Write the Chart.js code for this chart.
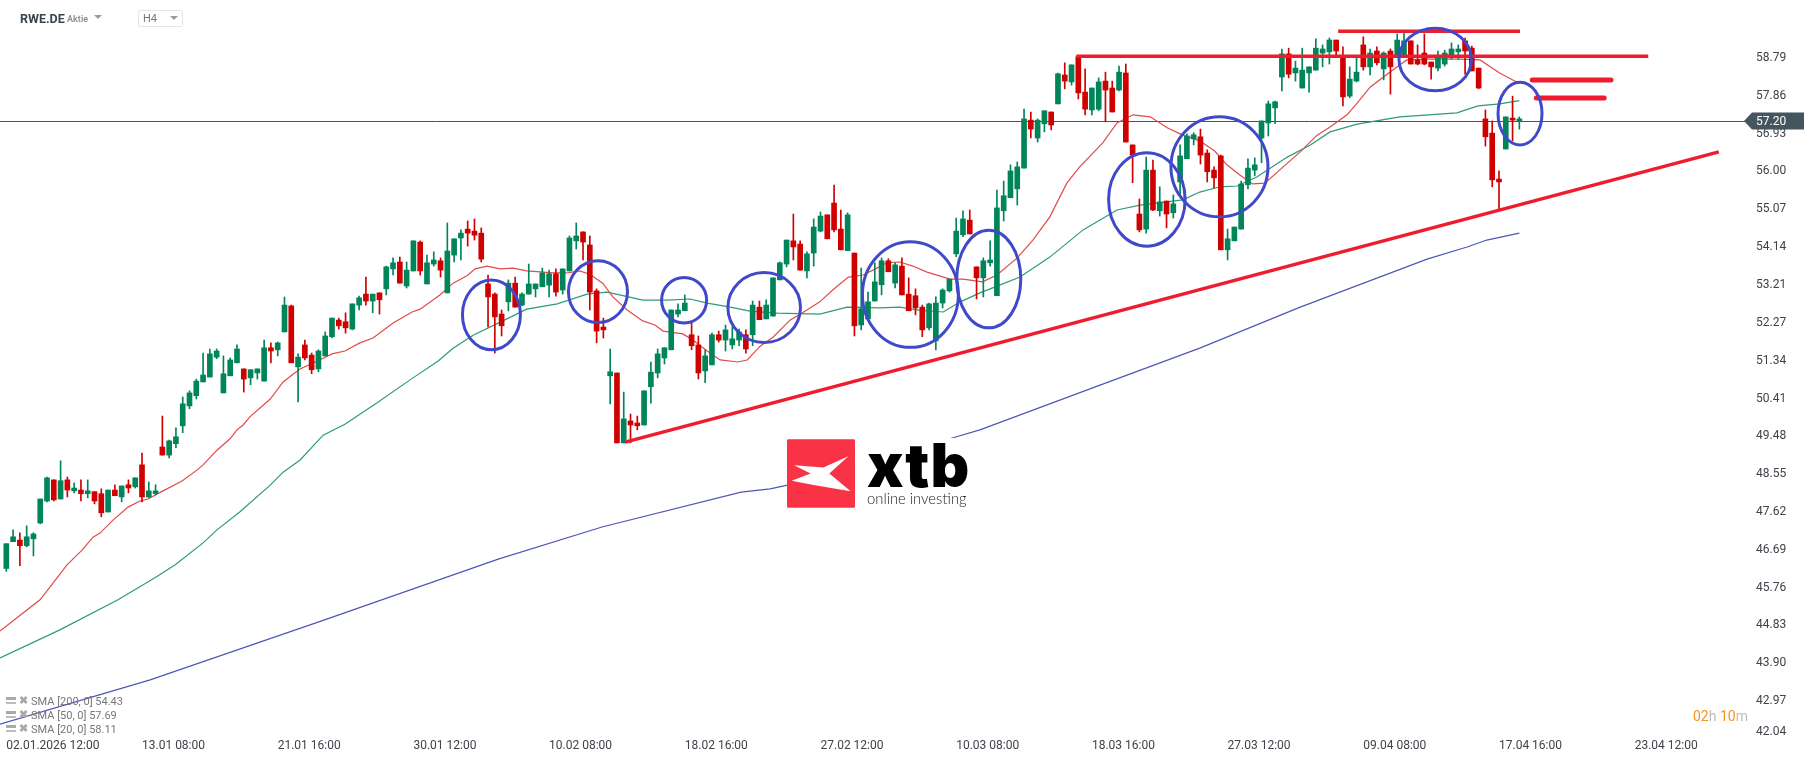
<!DOCTYPE html>
<html>
<head>
<meta charset="utf-8">
<title>RWE.DE H4</title>
<script src="https://cdn.jsdelivr.net/npm/chart.js@4"></script>
<style>
  html, body { margin: 0; padding: 0; background: #fff; }
  #wrap { position: relative; width: 1816px; height: 761px; overflow: hidden; font-family: Roboto, sans-serif; }
  #wrap canvas { position: absolute; left: 0; top: 0; }
  .abs { position: absolute; white-space: nowrap; }
  .tri { position: absolute; width: 0; height: 0; border-left: 4px solid transparent; border-right: 4px solid transparent; border-top: 4px solid #9a9a9a; }
  .sma { position: absolute; left: 31px; font-size: 11px; line-height: 12px; color: #777; white-space: nowrap; }
  .sma-ico { position: absolute; left: 6px; width: 10px; height: 7px; border-top: 3px solid #aaa; border-bottom: 2px solid #bbb; box-sizing: border-box; }
  .sma-x { position: absolute; left: 19px; font-size: 11px; line-height: 12px; font-weight: 900; color: #aaa; }
</style>
</head>
<body>
<div id="wrap">
  <canvas id="chart" width="1816" height="761"></canvas>

  <div class="abs" style="left:20px;top:11px;font-size:12.5px;line-height:16px;font-weight:700;color:#37474f;">RWE.DE</div>
  <div class="abs" style="left:67px;top:13px;font-size:9px;line-height:12px;font-weight:700;color:#90979c;">Aktie</div>
  <div class="tri" style="left:94px;top:15px;"></div>
  <div class="abs" style="left:138px;top:10px;width:43px;height:15px;border:1px solid #e6e6e6;border-radius:2px;"></div>
  <div class="abs" style="left:143px;top:12px;font-size:11px;line-height:14px;color:#777;">H4</div>
  <div class="tri" style="left:170px;top:16px;"></div>

  <div class="sma-ico" style="top:697px;"></div><div class="sma-x" style="top:695px;">✖</div><div class="sma" style="top:696px;">SMA [200, 0] 54.43</div>
  <div class="sma-ico" style="top:711px;"></div><div class="sma-x" style="top:709px;">✖</div><div class="sma" style="top:710px;">SMA [50, 0] 57.69</div>
  <div class="sma-ico" style="top:725px;"></div><div class="sma-x" style="top:723px;">✖</div><div class="sma" style="top:724px;">SMA [20, 0] 58.11</div>

  <div class="abs" style="left:1693px;top:708px;font-size:14px;line-height:16px;color:#bdbdbd;"><span style="color:#f7931e">02</span>h <span style="color:#f7931e">10</span>m</div>

  <div class="abs" style="left:787px;top:438px;width:170px;height:72px;background:#fff;">
    <svg class="abs" style="left:0;top:1px;" width="68" height="69" viewBox="51 27 204 206">
      <rect x="51" y="27" width="204" height="206" rx="4" fill="#f93345"/>
      <polygon points="72,105 160,112 235,78 178,130 242,183 135,165 65,152 122,130" fill="#fff"/>
    </svg>
    <div class="abs" style="left:80px;top:-3px;font-family:Inter,sans-serif;font-weight:900;font-size:60px;line-height:60px;color:#000;letter-spacing:1px;">xtb</div>
    <div class="abs" style="left:80px;top:52px;font-family:Lato,sans-serif;font-weight:300;font-size:14.8px;line-height:17px;color:#222;">online investing</div>
  </div>
</div>

<script>
// H4 candles, 02.01.2026 12:00 onward
const opens = [
  46.18,46.84,46.88,46.74,46.91,47.30,47.84,48.36,47.89,48.36,
  48.09,48.11,48.02,48.07,48.02,47.57,48.11,47.94,48.24,48.19,
  48.73,47.94,48.02,49.17,48.97,49.25,49.69,50.18,50.43,50.77,
  50.89,51.38,50.50,50.92,51.24,51.09,50.87,50.99,50.79,51.61,
  51.56,52.00,52.64,51.14,51.68,51.43,51.09,51.41,51.88,52.29,
  52.25,52.07,52.66,52.93,52.76,52.96,53.06,53.55,53.72,53.13,
  53.50,54.21,53.18,53.67,53.75,52.96,53.89,54.31,54.53,54.48,
  54.43,53.18,52.93,52.44,52.74,53.20,52.66,52.93,53.06,53.11,
  53.15,53.43,53.03,53.50,54.24,54.46,54.14,53.01,52.12,50.92,
  50.99,49.27,49.81,49.76,49.71,50.65,50.99,51.36,51.56,52.44,
  52.52,51.93,51.68,51.04,51.19,51.93,51.80,51.68,51.80,51.93,
  51.93,52.61,52.32,52.39,53.28,53.67,54.24,54.16,53.50,53.94,
  54.48,54.88,55.17,54.53,54.00,53.94,52.17,52.32,52.76,53.16,
  53.75,53.20,53.62,52.93,52.89,52.61,52.10,51.78,52.71,53.01,
  53.92,54.39,54.75,53.60,53.33,53.70,52.89,54.98,55.30,55.52,
  56.03,57.21,56.77,57.12,57.41,57.61,58.32,58.15,58.77,57.90,
  57.46,57.48,58.17,58.00,57.95,58.37,56.60,54.90,54.53,55.98,
  54.98,55.22,54.93,55.69,56.26,56.75,56.80,56.40,55.98,56.33,
  54.02,54.24,54.53,55.62,55.98,56.77,57.14,57.51,58.27,58.84,
  58.37,58.00,58.37,58.44,58.86,58.89,59.18,58.76,57.80,58.17,
  59.06,58.52,58.91,58.47,58.91,58.81,58.81,59.16,58.69,58.86,
  58.64,58.49,58.59,58.81,58.89,59.16,58.98,58.49,57.24,56.89,
  55.76,56.50,57.26,57.18
];
const highs = [
  46.79,47.13,47.06,47.23,47.06,47.89,48.43,48.36,48.83,48.43,
  48.29,48.36,48.36,48.07,48.14,48.11,48.24,48.21,48.36,48.41,
  49.02,48.31,48.24,49.93,49.34,49.64,50.40,50.55,50.84,51.48,
  51.58,51.58,51.41,51.36,51.68,51.09,51.07,51.09,51.80,51.73,
  51.75,52.86,52.66,51.46,51.80,51.48,51.56,52.00,52.34,52.34,
  52.47,52.69,52.88,53.35,52.93,52.96,53.62,53.82,53.84,53.72,
  54.24,54.24,53.89,53.97,53.82,54.68,54.29,54.51,54.73,54.78,
  54.56,53.40,52.96,52.54,53.28,53.35,52.96,53.67,53.18,53.57,
  53.52,53.55,53.55,54.36,54.68,54.46,54.36,53.06,52.34,51.58,
  50.99,50.52,49.98,49.93,50.55,51.26,51.58,51.61,52.54,52.69,
  52.91,52.22,51.90,51.56,51.97,52.02,52.17,52.12,52.07,52.05,
  52.76,52.76,52.79,53.33,53.72,54.26,54.90,54.24,53.97,54.78,
  54.95,54.88,55.61,55.00,54.93,53.94,53.57,52.98,53.70,53.82,
  53.80,53.70,53.82,53.33,53.06,52.66,52.71,52.86,53.06,53.30,
  54.80,54.98,55.00,53.60,53.82,54.24,55.49,55.71,56.11,56.18,
  57.48,57.41,57.24,57.44,57.41,58.37,58.62,58.57,58.77,58.47,
  58.00,58.25,58.39,58.17,58.54,58.59,56.60,55.27,56.30,56.23,
  55.57,55.22,55.37,56.60,56.87,56.90,56.99,56.48,56.06,56.35,
  54.53,54.58,55.71,56.26,56.28,57.19,57.68,57.68,58.96,58.98,
  58.66,58.98,58.52,59.21,59.06,59.23,59.18,59.01,58.52,58.76,
  59.26,58.96,59.01,58.89,58.96,59.33,59.35,59.16,59.06,59.33,
  58.64,58.91,58.93,59.11,59.06,59.23,59.03,58.49,57.46,57.19,
  55.96,57.29,57.80,57.29
];
const lows = [
  46.11,46.84,46.25,46.71,46.49,47.28,47.82,47.84,47.89,47.94,
  48.04,47.84,47.92,47.77,47.45,47.57,47.97,47.82,48.04,48.16,
  47.82,47.92,47.99,48.97,48.90,49.15,49.52,50.11,50.35,50.77,
  50.89,51.34,50.50,50.92,51.24,50.52,50.70,50.84,50.79,51.24,
  51.41,52.00,51.24,50.28,51.31,50.97,51.02,51.41,51.85,52.07,
  51.97,52.05,52.54,52.66,52.47,52.44,52.91,53.40,53.20,53.08,
  53.50,53.40,53.18,53.62,53.35,52.96,53.72,53.77,54.11,54.26,
  53.72,52.12,51.48,51.90,52.52,52.61,52.64,52.93,52.86,53.11,
  52.86,52.88,52.93,53.50,54.04,53.77,52.54,51.73,51.85,50.23,
  49.27,49.27,49.27,49.59,49.71,50.25,50.87,51.21,51.56,52.37,
  52.52,51.56,50.84,50.75,51.19,51.75,51.53,51.58,51.66,51.48,
  51.66,52.30,52.32,52.39,53.28,53.60,53.77,53.52,53.33,53.62,
  54.46,54.29,54.46,54.02,54.00,51.90,52.05,52.32,52.76,52.91,
  53.48,53.08,52.91,52.52,52.42,51.88,52.05,51.56,52.59,52.98,
  53.85,54.34,54.41,52.81,52.86,53.62,52.89,54.73,55.30,55.12,
  56.03,56.77,56.67,56.92,56.97,57.61,57.98,58.07,57.73,57.34,
  57.34,57.44,57.17,57.41,57.93,56.67,55.67,54.46,54.43,54.98,
  54.85,54.56,54.80,55.35,56.26,56.60,56.13,55.69,55.54,54.02,
  53.77,54.24,54.53,55.52,55.84,56.16,56.82,57.12,57.93,58.25,
  58.17,58.00,57.90,58.44,58.52,58.59,58.81,57.56,57.76,58.15,
  58.44,58.32,58.57,58.20,57.85,58.81,58.79,58.59,58.57,58.57,
  58.22,58.42,58.54,58.71,58.71,58.34,58.42,57.98,56.57,55.57,
  55.00,56.50,56.70,56.99
];
const closes = [
  46.79,46.96,46.74,46.96,47.03,47.89,48.41,47.87,48.34,48.11,
  48.16,48.02,48.09,47.84,47.55,48.11,47.97,48.21,48.16,48.41,
  47.94,48.09,48.09,48.97,49.32,49.42,50.23,50.50,50.79,50.94,
  51.46,51.53,50.97,51.31,51.58,50.84,51.07,51.09,51.61,51.53,
  51.73,52.66,51.24,51.38,51.36,51.07,51.53,51.90,52.34,52.15,
  52.10,52.69,52.84,52.76,52.93,52.79,53.60,53.70,53.20,53.52,
  54.24,53.50,53.70,53.77,53.52,53.99,54.29,54.43,54.43,54.38,
  53.79,52.86,52.37,52.15,53.20,52.61,52.93,53.18,53.18,53.45,
  53.43,52.98,53.55,54.31,54.36,54.21,52.98,52.02,52.05,51.02,
  49.27,49.86,49.71,49.69,50.55,51.01,51.46,51.61,52.54,52.54,
  52.71,51.66,50.99,51.41,51.93,51.80,52.05,51.83,52.00,51.58,
  52.66,52.30,52.66,53.33,53.70,54.26,54.09,53.52,53.92,54.58,
  54.85,54.29,54.51,54.02,54.88,52.15,52.57,52.74,53.23,53.75,
  53.48,53.65,52.91,52.52,52.59,52.05,52.69,52.71,53.03,53.30,
  54.48,54.78,54.41,53.33,53.75,53.77,55.05,55.35,55.96,56.06,
  57.24,56.99,57.21,57.44,57.09,58.35,58.17,58.57,57.88,57.48,
  58.00,58.15,57.95,57.41,58.39,56.67,56.35,54.51,55.98,55.00,
  55.20,54.90,55.15,56.33,56.82,56.85,56.35,55.94,55.79,54.02,
  54.29,54.58,55.64,56.03,56.11,57.19,57.61,57.66,58.84,58.34,
  58.49,58.44,58.52,58.98,58.96,59.18,58.91,57.78,58.22,58.39,
  58.52,58.86,58.62,58.86,58.52,59.18,59.16,58.59,58.59,58.59,
  58.52,58.76,58.86,58.96,58.96,58.91,58.42,58.00,56.80,55.74,
  55.69,57.29,57.21,57.24
];

// moving averages, read at candle positions
const sma20Idx = [-0.93,4.97,6.88,8.95,11.16,12.78,13.81,15.73,17.94,19.71,20.88,23.09,25.9,28.1,29,31.05,32.97,34,34.9,35.9,38.9,40.8,42.25,43.3,45.8,48,49.9,52.1,54.05,57,59.8,61,63.9,65.85,67.9,69.1,70.85,72.8,74.7,76.7,80.6,82.6,84.5,86,87.9,89.4,91.5,93.8,95.6,96.8,99.7,101.2,103.3,105.2,107.8,109.2,111.1,113,115.5,118,119.9,121.8,124.1,126.3,128.3,129.8,131.7,133.6,135.7,139.1,141,143.9,146,149,151.3,153.8,156.3,158.2,161.6,163.7,166.05,168.6,171.1,173.4,175.9,178.1,179.9,181.8,183.7,185.5,188.2,190.7,193.2,195.1,197.6,199.1,201,203.9,206.4,209.4,214.2,217.2,220.1,223];
const sma20Val = [44.64,45.41,45.82,46.27,46.63,46.95,47.05,47.37,47.69,47.84,47.89,48.09,48.33,48.60,48.73,49.09,49.37,49.59,49.71,49.91,50.35,50.77,50.96,51.09,51.28,51.46,51.53,51.73,51.85,52.22,52.49,52.56,52.91,53.20,53.38,53.55,53.62,53.55,53.57,53.50,53.45,53.45,53.50,53.42,53.20,52.86,52.54,52.27,52.17,52.02,51.95,51.80,51.53,51.31,51.26,51.31,51.65,51.87,52.29,52.54,52.74,53.03,53.35,53.40,53.57,53.70,53.72,53.62,53.47,53.30,53.30,53.23,53.40,53.82,54.26,54.83,55.66,56.06,56.65,57.14,57.34,57.29,57.02,56.84,56.70,56.45,56.11,55.86,55.64,55.66,56.06,56.43,56.84,57.04,57.34,57.63,58.02,58.39,58.69,58.71,58.71,58.69,58.37,58.11];
const sma50Idx = [-0.93,7.9,16.46,21.9,24.9,29,31.05,34.4,38.9,40.8,43.3,46.7,49.9,54.6,59.5,63.6,65.85,68.8,72.8,76.7,81.2,85.6,88.5,90.4,93.8,97.4,100.8,103.3,106.7,109.6,113.6,119.9,123.9,128.8,131.7,134.7,138.1,140.6,143.5,146.4,149.4,153.8,158.7,163.7,167.1,173.4,175.9,178.9,181.4,184.3,188.8,192.2,195.1,199.1,205.4,213.8,216.9,220.1,223];
const sma50Val = [43.98,44.67,45.41,45.95,46.27,46.81,47.13,47.57,48.23,48.55,48.85,49.46,49.73,50.25,50.82,51.28,51.60,51.92,52.24,52.56,52.69,52.93,52.98,52.91,52.78,52.78,52.81,52.71,52.61,52.51,52.46,52.44,52.61,52.59,52.61,52.53,52.49,52.74,52.96,53.15,53.35,53.84,54.51,55.00,55.12,55.25,55.44,55.57,55.59,55.81,56.30,56.60,56.92,57.11,57.29,57.39,57.56,57.61,57.69];
const sma200Idx = [-0.93,21.2,46.8,72.5,87.8,108.3,112.6,115.1,139.4,143.5,161.2,175.9,190.7,209.4,215.3,218.2,223];
const sma200Val = [42.35,43.44,44.91,46.41,47.20,48.06,48.14,48.23,49.39,49.59,50.69,51.60,52.61,53.79,54.09,54.26,54.43];

// hand drawn levels and trend line (candle position / price)
const trendIdx = [91.2, 252.4];
const trendVal = [49.29, 56.43];
const resistanceIdx = [157.7, 242];
const resistanceVal = [58.78, 58.78];
const topLevelIdx = [196.3, 223.1];
const topLevelVal = [59.395, 59.395];
const shortUpperIdx = [224.9, 236.5];
const shortUpperVal = [58.2, 58.2];
const shortLowerIdx = [225.5, 235.5];
const shortLowerVal = [57.755, 57.755];

// blue rings: centre candle, centre price, half width in candles, half height in price
const ringIdx = [71.5, 87.2, 99.9, 111.7, 133.25, 144.8, 168.1, 178.8, 210.6, 223.1];
const ringVal = [52.42, 52.99, 52.78, 52.60, 52.92, 53.30, 55.26, 56.06, 58.70, 57.37];
const ringRx = [4.27, 4.35, 3.32, 5.35, 7.07, 4.72, 5.64, 7.15, 5.34, 3.24];
const ringRy = [0.86, 0.76, 0.56, 0.86, 1.30, 1.20, 1.15, 1.23, 0.77, 0.77];

const lastPrice = 57.20;
const xTickIdx = [0, 20, 40, 60, 80, 100, 120, 140, 160, 180, 200, 220, 240];
const xTickLabels = ['02.01.2026 12:00', '13.01 08:00', '21.01 16:00', '30.01 12:00', '10.02 08:00', '18.02 16:00', '27.02 12:00', '10.03 08:00', '18.03 16:00', '27.03 12:00', '09.04 08:00', '17.04 16:00', '23.04 12:00'];
const yTicks = [58.79, 57.86, 56.93, 56.00, 55.07, 54.14, 53.21, 52.27, 51.34, 50.41, 49.48, 48.55, 47.62, 46.69, 45.76, 44.83, 43.90, 42.97, 42.04];

const UP = '#00855a';
const DOWN = '#cf0000';
const AXIS_TEXT = '#3d4349';
const ROW = '#44555f';

const candleColors = opens.map((o, i) => closes[i] >= o ? UP : DOWN);
const toPoints = (xs, ys) => xs.map((x, i) => ({ x, y: ys[i] }));

function smaLine(xs, ys, color, order) {
  return { type: 'line', data: toPoints(xs, ys), borderColor: color, borderWidth: 1.2, pointRadius: 0, order };
}
function levelLine(xs, ys, width, cap) {
  return { type: 'line', data: toPoints(xs, ys), borderColor: '#ee1c2e', borderWidth: width, pointRadius: 0, borderCapStyle: cap || 'butt', order: 1 };
}

const priceRow = {
  id: 'priceRow',
  beforeDatasetsDraw(chart) {
    const { ctx, scales: { y } } = chart;
    const py = Math.round(y.getPixelForValue(lastPrice)) + 0.5;
    ctx.save();
    ctx.strokeStyle = ROW;
    ctx.lineWidth = 1;
    ctx.beginPath();
    ctx.moveTo(0, py);
    ctx.lineTo(1746, py);
    ctx.stroke();
    ctx.restore();
  },
  afterDraw(chart) {
    const { ctx, scales: { y } } = chart;
    const py = Math.round(y.getPixelForValue(lastPrice));
    ctx.save();
    ctx.fillStyle = ROW;
    ctx.beginPath();
    ctx.moveTo(1744, py);
    ctx.lineTo(1752, py - 8.5);
    ctx.lineTo(1804, py - 8.5);
    ctx.lineTo(1804, py + 8.5);
    ctx.lineTo(1752, py + 8.5);
    ctx.closePath();
    ctx.fill();
    ctx.fillStyle = '#fff';
    ctx.font = '12px Roboto';
    ctx.textBaseline = 'middle';
    ctx.fillText(lastPrice.toFixed(2), 1756, py + 1);
    ctx.restore();
  },
};

const rings = {
  id: 'rings',
  afterDatasetsDraw(chart) {
    const { ctx, scales: { x, y } } = chart;
    ctx.save();
    ctx.strokeStyle = '#4049c9';
    ctx.lineWidth = 3;
    ringIdx.forEach((cx, i) => {
      const px = x.getPixelForValue(cx);
      const py = y.getPixelForValue(ringVal[i]);
      const rx = x.getPixelForValue(cx + ringRx[i]) - px;
      const ry = py - y.getPixelForValue(ringVal[i] + ringRy[i]);
      ctx.beginPath();
      ctx.ellipse(px, py, rx, ry, 0, 0, Math.PI * 2);
      ctx.stroke();
    });
    ctx.restore();
  },
};

new Chart(document.getElementById('chart'), {
  type: 'bar',
  data: {
    datasets: [
      smaLine(sma200Idx, sma200Val, '#4f57b5', 8),
      smaLine(sma50Idx, sma50Val, '#2f9a76', 7),
      smaLine(sma20Idx, sma20Val, '#e24a4a', 6),
      { label: 'wick', data: highs.map((h, i) => ({ x: i, y: [lows[i], h] })), backgroundColor: candleColors, barThickness: 1, grouped: false, order: 5 },
      { label: 'body', data: opens.map((o, i) => ({ x: i, y: [o, closes[i]] })), backgroundColor: candleColors, barThickness: 5, grouped: false, order: 4 },
      levelLine(trendIdx, trendVal, 3.5),
      levelLine(resistanceIdx, resistanceVal, 3.5),
      levelLine(topLevelIdx, topLevelVal, 3.5),
      levelLine(shortUpperIdx, shortUpperVal, 5, 'round'),
      levelLine(shortLowerIdx, shortLowerVal, 5, 'round'),
    ],
  },
  options: {
    responsive: false,
    animation: false,
    events: [],
    layout: { padding: 0 },
    plugins: { legend: { display: false }, tooltip: { enabled: false } },
    scales: {
      x: {
        type: 'linear',
        offset: false,
        min: -0.93,
        max: 256.7,
        afterBuildTicks: axis => { axis.ticks = xTickIdx.map(value => ({ value })); },
        afterFit: axis => { axis.height = 24; axis.paddingLeft = 0; axis.paddingRight = 0; },
        grid: { display: false, drawTicks: false },
        border: { display: false },
        ticks: {
          autoSkip: false, maxRotation: 0, minRotation: 0, align: 'start', padding: 2,
          color: AXIS_TEXT, font: { family: 'Roboto', size: 12 },
          callback: (v, i) => xTickLabels[i],
        },
      },
      y: {
        position: 'right',
        min: 42.035,
        max: 60.165,
        afterBuildTicks: axis => { axis.ticks = yTicks.map(value => ({ value })); },
        afterFit: axis => { axis.width = 68; axis.paddingTop = 0; axis.paddingBottom = 0; },
        grid: { display: false, drawTicks: false },
        border: { display: false },
        ticks: {
          autoSkip: false, padding: 8, labelOffset: 2,
          color: AXIS_TEXT, font: { family: 'Roboto', size: 12, lineHeight: 14 / 12 },
          // the lowest label sits a little above its tick, as in the platform
          callback: v => v === 42.04 ? ['42.04', ''] : v.toFixed(2),
        },
      },
    },
  },
  plugins: [priceRow, rings],
});
</script>
</body>
</html>
